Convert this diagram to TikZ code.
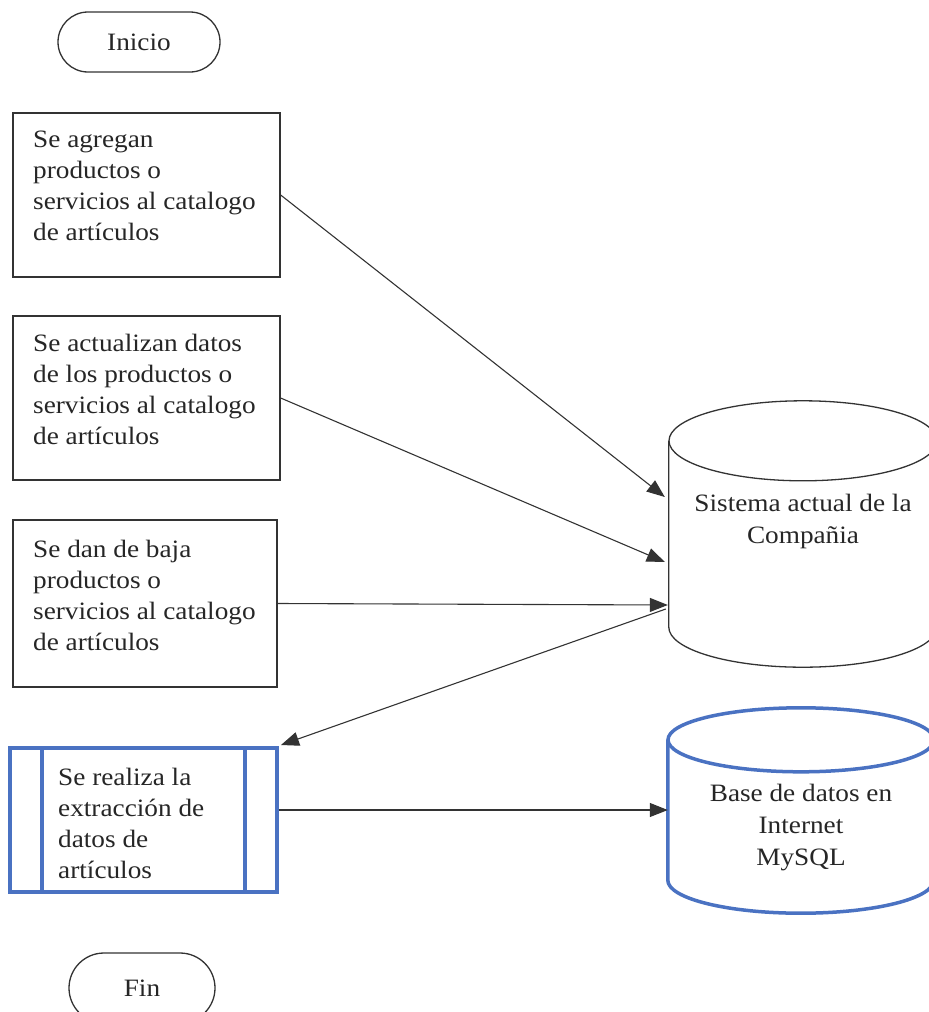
\documentclass[tikz,border=0pt]{standalone}
\usepackage{fontspec}
\setmainfont[FakeStretch=1.09]{Liberation Serif}
\usetikzlibrary{arrows.meta}
\definecolor{ln}{HTML}{333333}
\definecolor{bl}{HTML}{4A72C2}
\begin{document}
\begin{tikzpicture}[x=1pt,y=-1pt,
  box/.style={draw=ln,line width=1.3pt,rectangle,inner sep=0pt},
  term/.style={draw=ln,line width=1.3pt,rectangle,inner sep=0pt,font=\fontsize{25}{30}\selectfont,text=black!85},
  txt/.style={inner sep=0pt,align=left,anchor=north west,font=\fontsize{25}{31}\selectfont,text=black!85},
  ctxt/.style={inner sep=0pt,align=center,font=\fontsize{25}{32}\selectfont,text=black!85},
  conn/.style={draw=ln,line width=1.1pt,-{Triangle[length=18pt,width=14pt]}},
  cyl/.style={draw=ln,line width=1.3pt},
  bcyl/.style={draw=bl,line width=3.5pt}]
\useasboundingbox (0,0) rectangle (929,1012);
% terminators
\node[term,rounded corners=30pt,minimum width=162pt,minimum height=60pt] (inicio) at (139,42) {Inicio};
\node[term,rounded corners=35pt,minimum width=146pt,minimum height=70pt] (fin) at (142,988) {Fin};
% process boxes
\node[box,minimum width=267pt,minimum height=164pt] (b1) at (146.5,195) {};
\node[txt] (t1) at (33,131) {Se agregan\\productos o\\servicios al catalogo\\de artículos};
\node[box,minimum width=267pt,minimum height=164pt] (b2) at (146.5,398) {};
\node[txt] (t2) at (33,334) {Se actualizan datos\\de los productos o\\servicios al catalogo\\de artículos};
\node[box,minimum width=264pt,minimum height=167pt] (b3) at (145,603.5) {};
\node[txt] (t3) at (33,540) {Se dan de baja\\productos o\\servicios al catalogo\\de artículos};
% predefined process (blue)
\node[draw=bl,line width=3.8pt,rectangle,minimum width=267pt,minimum height=144pt,inner sep=0pt] (b4) at (143.5,820) {};
\draw[draw=bl,line width=3.8pt] (42,748) -- (42,892) (245,748) -- (245,892);
\node[txt] (t4) at (58,768) {Se realiza la\\extracción de\\datos de\\artículos};
% cylinder 1
\node[minimum width=268pt,minimum height=186pt,inner sep=0pt] (c1) at (803,534) {};
\draw[cyl] (c1.north) ellipse[x radius=134,y radius=40];
\draw[cyl] (c1.north west) -- (c1.south west) arc[start angle=180,end angle=0,x radius=134,y radius=40] -- (c1.north east);
\node[ctxt] (c1t) at (803,521) {Sistema actual de la\\Compañia};
% cylinder 2
\node[minimum width=266pt,minimum height=140pt,inner sep=0pt] (c2) at (801,810) {};
\draw[bcyl] (c2.north) ellipse[x radius=133,y radius=32];
\draw[bcyl] (c2.north west) -- (c2.south west) arc[start angle=180,end angle=0,x radius=133,y radius=33] -- (c2.north east);
\node[ctxt] (c2t) at (801,828) {Base de datos en\\Internet\\MySQL};
% connectors
\coordinate (e1) at (c1.west |- 0,497);
\coordinate (e2) at (c1.west |- 0,562);
\coordinate (e3) at (c1.west |- 0,605);
\coordinate (s4) at (c1.west |- 0,609);
\coordinate (e4) at (281,745);
\draw[conn] (b1.east) -- ([xshift=-4pt]e1);
\draw[conn] (b2.east) -- ([xshift=-4pt]e2);
\draw[conn] (b3.east) -- ([xshift=-1pt]e3);
\draw[conn] ([xshift=-3pt]s4) -- (e4);
\draw[conn] (b4.east |- 0,810) -- (c2.west |- 0,810);
\end{tikzpicture}
\end{document}
